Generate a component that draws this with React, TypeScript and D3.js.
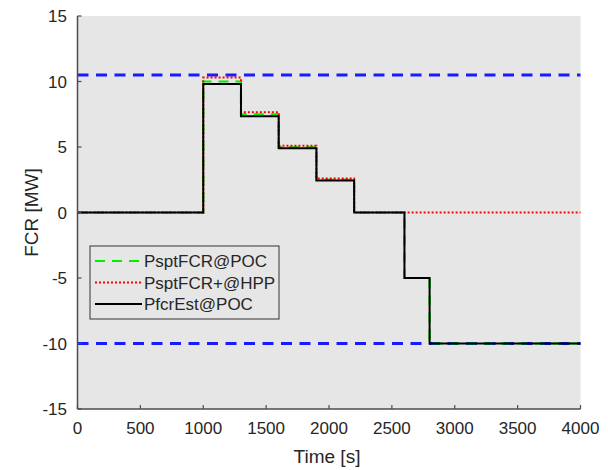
import React from "react";
import * as d3 from "d3";

// ---- data ----
const stepTimes = [0, 1000, 1300, 1600, 1900, 2200, 2600, 2800, 4000];
const psptFcrPoc = [0, 10.0, 7.5, 5.0, 2.5, 0, -5, -10, -10];
const psptFcrHpp = [0, 10.3, 7.65, 5.1, 2.6, 0, 0, 0, 0];
const pfcrEstPoc = [0, 9.8, 7.35, 4.9, 2.45, 0, -5, -10, -10];
const upperLimit = 10.5;
const lowerLimit = -10;
const xTicks = [0, 500, 1000, 1500, 2000, 2500, 3000, 3500, 4000];
const yTicks = [-15, -10, -5, 0, 5, 10, 15];
const seriesNames = ["PsptFCR@POC", "PsptFCR+@HPP", "PfcrEst@POC"];

const W = 608;
const H = 470;
const L = 77.5;
const R = 580.5;
const T = 16;
const B = 409;

export default function App() {
  const x = d3.scaleLinear().domain([0, 4000]).range([L, R]);
  const y = d3.scaleLinear().domain([-15, 15]).range([B, T]);
  const font = "'Liberation Sans', Arial, sans-serif";
  const txt = "#262626";
  const axisCol = "#4d4d4d";

  const mk = (vals: number[]) =>
    d3
      .line<number>()
      .x((_, i) => x(stepTimes[i]))
      .y((v) => y(v))
      .curve(d3.curveStepAfter)(vals) as string;

  const series = [
    { name: seriesNames[0], vals: psptFcrPoc, color: "#00ee00", dash: "10,7", w: 2.2 },
    { name: seriesNames[1], vals: psptFcrHpp, color: "#ff0000", dash: "2,2", w: 2 },
    { name: seriesNames[2], vals: pfcrEstPoc, color: "#000000", dash: undefined, w: 2 },
  ];

  const legX = 90;
  const legY = 246;
  const legW = 189;
  const legH = 73;

  return (
    <svg
      width={W}
      height={H}
      style={{ position: "absolute", left: 0, top: 0, background: "#fff" }}
      fontFamily={font}
    >
      <rect x={L} y={T} width={R - L} height={B - T} fill="#e6e6e6" />
      {/* limits */}
      {[upperLimit, lowerLimit].map((v, i) => (
        <line
          key={i}
          x1={L}
          x2={R}
          y1={y(v)}
          y2={y(v)}
          stroke="#1a1aff"
          strokeWidth={3}
          strokeDasharray="11,7.5"
        />
      ))}
      {series.map((s) => (
        <path
          key={s.name}
          d={mk(s.vals)}
          fill="none"
          stroke={s.color}
          strokeWidth={s.w}
          strokeDasharray={s.dash}
        />
      ))}
      {/* axes */}
      <line x1={L} x2={L} y1={T} y2={B} stroke={axisCol} strokeWidth={1.5} />
      <line x1={L} x2={R} y1={B} y2={B} stroke={axisCol} strokeWidth={1.5} />
      {xTicks.map((t) => (
        <g key={"x" + t}>
          <line x1={x(t)} x2={x(t)} y1={B} y2={B - 4} stroke={axisCol} strokeWidth={1.2} />
          <text x={x(t)} y={434} textAnchor="middle" fontSize={17} fill={txt}>
            {t}
          </text>
        </g>
      ))}
      {yTicks.map((t) => (
        <g key={"y" + t}>
          <line x1={L} x2={L + 4} y1={y(t)} y2={y(t)} stroke={axisCol} strokeWidth={1.2} />
          <text x={67} y={y(t) + 6} textAnchor="end" fontSize={17} fill={txt}>
            {t}
          </text>
        </g>
      ))}
      <text x={327} y={463} textAnchor="middle" fontSize={19} fill={txt}>
        Time [s]
      </text>
      <text
        transform={`translate(38,${(T + B) / 2}) rotate(-90)`}
        textAnchor="middle"
        fontSize={19}
        fill={txt}
      >
        FCR [MW]
      </text>
      {/* legend */}
      <rect
        x={legX}
        y={legY}
        width={legW}
        height={legH}
        fill="#e6e6e6"
        stroke="#333"
        strokeWidth={1}
      />
      {series.map((s, i) => {
        const cy = legY + 15 + i * 21.5;
        return (
          <g key={"leg" + i}>
            <line
              x1={95}
              x2={142}
              y1={cy}
              y2={cy}
              stroke={s.color}
              strokeWidth={s.w}
              strokeDasharray={s.dash}
            />
            <text x={144} y={cy + 6} fontSize={17} fill={txt}>
              {s.name}
            </text>
          </g>
        );
      })}
    </svg>
  );
}
